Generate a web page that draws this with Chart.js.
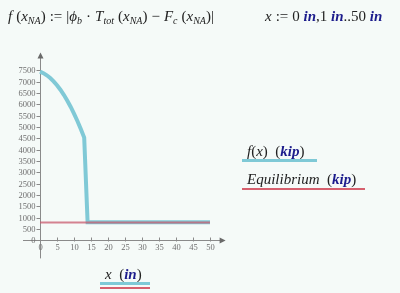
<!DOCTYPE html>
<html>
<head>
<meta charset="utf-8">
<script src="https://cdn.jsdelivr.net/npm/chart.js@4"></script>
<style>
  html, body { margin: 0; padding: 0; background: #f5faf8; }
  #wrap { position: relative; width: 400px; height: 293px; overflow: hidden; background: #f5faf8; }
  #wrap canvas { position: absolute; left: 0; top: 0; }
  .txt { position: absolute; font-family: "Liberation Serif", serif; color: #222; white-space: nowrap; font-size: 15px; line-height: 16px; }
  .txt i { font-style: italic; }
  .u { color: #1c1c8c; font-weight: bold; font-style: italic; }
  sub { font-size: 10px; vertical-align: -3px; line-height: 0; }
  .sp { display: inline-block; width: 4px; }
  .bar { position: absolute; }
</style>
</head>
<body>
<div id="wrap">
  <canvas id="chart" width="400" height="293"></canvas>

  <div class="txt" style="left:8px; top:8px;"><i>f</i><span class="sp"></span>(<i>x</i><sub><i>NA</i></sub>)<span class="sp"></span>:=<span class="sp"></span>|<i>ϕ</i><sub><i>b</i></sub><span class="sp"></span>·<span class="sp"></span><i>T</i><sub><i>tot</i></sub><span class="sp"></span>(<i>x</i><sub><i>NA</i></sub>)<span class="sp"></span>−<span class="sp"></span><i>F</i><sub><i>c</i></sub><span class="sp"></span>(<i>x</i><sub><i>NA</i></sub>)|</div>
  <div class="txt" style="left:265px; top:8px;"><i>x</i><span class="sp"></span>:=<span class="sp"></span>0 <span class="u">in</span>,1 <span class="u">in</span>..50 <span class="u">in</span></div>

  <div class="txt" style="left:247px; top:143px;"><i>f</i>(<i>x</i>)&nbsp;&nbsp;(<span class="u">kip</span>)</div>
  <div class="bar" style="left:242px; top:159px; width:75px; height:3px; background:#7fc9d6;"></div>
  <div class="txt" style="left:247px; top:171px;"><i>Equilibrium</i>&nbsp;&nbsp;(<span class="u">kip</span>)</div>
  <div class="bar" style="left:242px; top:188px; width:123px; height:2px; background:#d6606e;"></div>

  <div class="txt" style="left:105px; top:266px;"><i>x</i>&nbsp;&nbsp;(<span class="u">in</span>)</div>
  <div class="bar" style="left:100px; top:282px; width:50px; height:3px; background:#7fc9d6;"></div>
  <div class="bar" style="left:100px; top:287px; width:50px; height:2px; background:#d6606e;"></div>
</div>

<script>
// x values in inches (0 in, 1 in .. 50 in)
const xValues = [0, 1, 2, 3, 4, 5, 6, 7, 8, 9, 10, 11, 12, 13, 14, 15, 16, 17, 18, 19, 20,
  21, 22, 23, 24, 25, 26, 27, 28, 29, 30, 31, 32, 33, 34, 35, 36, 37, 38, 39, 40,
  41, 42, 43, 44, 45, 46, 47, 48, 49, 50];

// f(x) in kip
const fValues = [7440, 7372, 7278, 7158, 7012, 6840, 6642, 6418, 6168, 5892, 5590,
  5262, 4908, 4528, 790, 790, 790, 790, 790, 790, 790,
  790, 790, 790, 790, 790, 790, 790, 790, 790, 790,
  790, 790, 790, 790, 790, 790, 790, 790, 790, 790,
  790, 790, 790, 790, 790, 790, 790, 790, 790, 790];

// Equilibrium in kip
const eqValues = [780, 780, 780, 780, 780, 780, 780, 780, 780, 780, 780,
  780, 780, 780, 780, 780, 780, 780, 780, 780, 780,
  780, 780, 780, 780, 780, 780, 780, 780, 780, 780,
  780, 780, 780, 780, 780, 780, 780, 780, 780, 780,
  780, 780, 780, 780, 780, 780, 780, 780, 780, 780];

const xTicks = [0, 5, 10, 15, 20, 25, 30, 35, 40, 45, 50];
const yTicks = [0, 500, 1000, 1500, 2000, 2500, 3000, 3500, 4000, 4500, 5000, 5500, 6000, 6500, 7000, 7500];

// axes crossing at the origin, Mathcad style
const axesPlugin = {
    id: 'mathcadAxes',
    beforeDatasetsDraw(chart) {
        const ctx = chart.ctx;
        const xs = chart.scales.x;
        const ys = chart.scales.y;
        const x0 = Math.round(xs.getPixelForValue(0)) + 0.5;
        const y0 = Math.round(ys.getPixelForValue(0)) + 0.5;
        ctx.save();
        ctx.strokeStyle = '#8a8a8a';
        ctx.fillStyle = '#6a6a6a';
        ctx.lineWidth = 1;

        // axis lines
        const xr = xs.getPixelForValue(xs.max);
        const yt = ys.getPixelForValue(ys.max);
        ctx.beginPath();
        ctx.moveTo(xs.getPixelForValue(xs.min), y0);
        ctx.lineTo(xr, y0);
        ctx.moveTo(x0, ys.getPixelForValue(ys.min));
        ctx.lineTo(x0, yt);
        ctx.stroke();

        // arrow heads
        ctx.beginPath();
        ctx.moveTo(xr + 2, y0);
        ctx.lineTo(xr - 4, y0 - 3);
        ctx.lineTo(xr - 4, y0 + 3);
        ctx.closePath();
        ctx.fill();
        ctx.beginPath();
        ctx.moveTo(x0, yt - 2);
        ctx.lineTo(x0 - 3, yt + 4);
        ctx.lineTo(x0 + 3, yt + 4);
        ctx.closePath();
        ctx.fill();

        // ticks + labels
        ctx.font = '8.5px "Liberation Serif", serif';
        ctx.fillStyle = '#6e6e6e';
        ctx.textAlign = 'right';
        ctx.textBaseline = 'middle';
        yTicks.forEach(v => {
            const py = Math.round(ys.getPixelForValue(v)) + 0.5;
            ctx.beginPath();
            ctx.moveTo(x0 - 4, py);
            ctx.lineTo(x0, py);
            ctx.stroke();
            ctx.fillText(String(v), x0 - 5, py);
        });
        ctx.textAlign = 'center';
        ctx.textBaseline = 'top';
        xTicks.forEach(v => {
            const px = Math.round(xs.getPixelForValue(v)) + 0.5;
            ctx.beginPath();
            ctx.moveTo(px, y0 - 3);
            ctx.lineTo(px, y0 + 1);
            ctx.stroke();
            ctx.fillText(String(v), px, y0 + 3);
        });
        ctx.restore();
    }
};

const ctx = document.getElementById('chart').getContext('2d');
const chart = new Chart(ctx, {
    type: 'line',
    data: {
        datasets: [{
            label: 'f(x)',
            data: xValues.map((x, i) => ({ x: x, y: fValues[i] })),
            borderColor: '#80c9d6',
            borderWidth: 4,
            pointRadius: 0,
            tension: 0,
            order: 1
        }, {
            label: 'Equilibrium',
            data: xValues.map((x, i) => ({ x: x, y: eqValues[i] })),
            borderColor: 'rgba(200, 90, 110, 0.75)',
            borderWidth: 2,
            pointRadius: 0,
            tension: 0,
            order: 0
        }]
    },
    options: {
        responsive: false,
        animation: false,
        layout: { padding: { left: 23, right: 176.4, top: 54.4, bottom: 34.6 } },
        plugins: { legend: { display: false }, tooltip: { enabled: false } },
        scales: {
            x: { type: 'linear', min: -5, max: 54, display: false },
            y: { type: 'linear', min: -800, max: 8200, display: false }
        }
    },
    plugins: [axesPlugin]
});
</script>
</body>
</html>
